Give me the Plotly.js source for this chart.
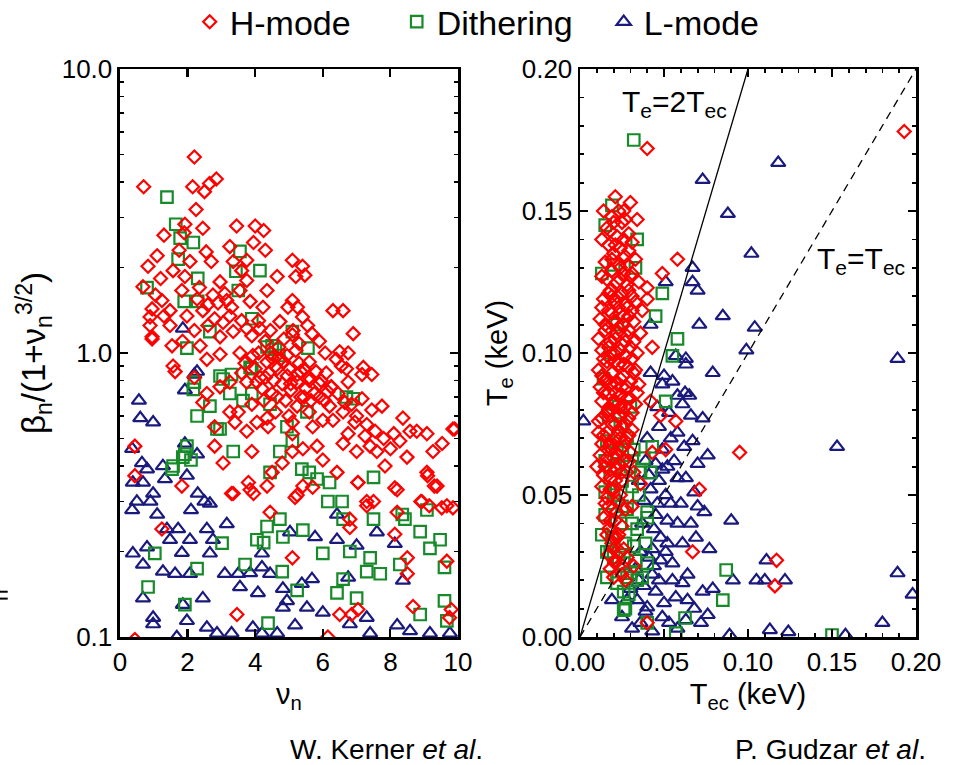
<!DOCTYPE html>
<html>
<head>
<meta charset="utf-8">
<script src="https://cdn.plot.ly/plotly-3.0.1.min.js"></script>
<style>html,body{margin:0;padding:0;background:#fff;}#chart{width:963px;height:765px;}</style>
</head>
<body>
<div id="chart"></div>
<script>
// ---------- Left panel: beta_n/(1+nu_n^3/2) vs nu_n ----------
const hLeftX = [0.7,2.2,2.15,2.5,2.65,2.85,2.25,1.9,1.3,2.45,3.45,4.0,4.25,1.92,3.25,3.95,4.3,2.55,2.07,2.7,3.35,3.75,5.1,0.83,1.57,1.2,0.68,1.92,2.96,3.75,4.35,4.65,1.83,2.28,1.24,0.95,1.48,2.75,3.16,3.55,3.85,4.23,4.97,1.98,2.45,2.8,3.25,0.89,1.48,0.95,1.54,2.37,2.96,3.35,3.75,4.14,4.73,5.12,1.57,2.57,2.96,3.55,3.93,4.35,4.94,0.89,
5.4,5.47,5.2,5.1,5.25,5.4,5.68,6.3,6.6,6.9,6.07,6.5,6.75,6.7,7.2,7.45,5.1,5.6,5.8,
5.24,5.6,6.15,6.75,7.16,6.65,7.16,7.45,7.75,6.3,6.0,5.6,5.24,8.37,6.95,6.75,7.25,6.6,7.0,7.4,7.6,8.0,8.28,8.58,8.78,9.08,9.53,9.26,9.85,8.49,7.84,7.04,6.42,6.0,5.83,5.41,8.2,9.08,9.38,5.41,7.3,8.93,9.15,9.67,9.85,5.1,
1.63,2.2,2.57,2.96,3.25,2.45,3.75,4.05,4.65,3.25,3.5,2.8,3.4,3.75,4.05,4.35,4.38,5.1,0.44,2.8,3.9,5.1,0.44,3.05,1.83,3.8,4.35,3.35,3.95,4.5,4.8,5.18,
4.4,4.6,4.8,5.0,4.2,4.5,5.3,5.5,4.9,4.0,3.6,4.7,5.2,4.3,3.9,6.1,6.4,5.9,6.2,5.7,
1.24,5.1,3.46,0.44,6.5,6.85,7.04,6.15,8.67,9.8,9.75,8.5,8.5,9.67,8.13,8.2,8.9,9.52,8.13,6.8,6.8,7.3,7.5,4.44,5.24,5.7,7.04,9.1,9.3,9.9,3.3,3.85,0.95,
4.55,4.95,5.35,4.15,4.75,5.05,5.45,3.7,4.45,5.65,6.25,6.55,5.95,3.05,2.35,1.75,1.1,2.6,3.1,3.6,
4.1,4.3,4.5,4.65,4.85,5.05,5.25,5.45,5.6,5.75,5.9,6.05,6.25,6.45,6.6,6.85,7.0,7.3,7.55,7.8,8.1,3.9,4.25,4.6,5.0,5.35,4.1,4.45,4.85,5.3,5.55,5.9,3.3,3.6,2.9,2.6,2.2,1.85,1.3,1.05];
const hLeftY = [3.85,4.9,3.85,3.7,3.95,4.1,3.2,2.65,2.6,2.75,2.8,2.8,2.7,2.84,2.37,2.45,2.3,2.27,2.1,2.1,2.1,2.12,2.12,2.02,1.95,1.83,1.71,1.86,1.78,1.8,1.66,1.86,1.66,1.55,1.53,1.43,1.41,1.6,1.53,1.66,1.52,1.45,1.45,1.35,1.41,1.32,1.35,1.25,1.25,1.14,1.06,1.06,1.14,1.19,1.22,1.22,1.29,1.2,0.9,0.95,0.99,1.0,0.98,0.93,0.98,1.34,
2.02,1.88,1.86,1.53,1.45,1.34,1.17,1.41,1.41,1.17,1.0,1.01,1.0,0.88,0.89,0.84,1.16,0.93,0.86,
0.79,0.82,0.73,0.79,0.84,0.67,0.69,0.63,0.65,0.58,0.58,0.62,0.65,0.59,0.57,0.52,0.51,0.48,0.45,0.47,0.45,0.46,0.49,0.53,0.53,0.52,0.48,0.45,0.54,0.43,0.40,0.35,0.38,0.42,0.47,0.46,0.33,0.38,0.34,0.34,0.30,0.30,0.29,0.29,0.285,0.57,
0.86,0.82,0.72,0.76,0.79,0.67,0.79,0.79,0.70,0.62,0.62,0.55,0.57,0.53,0.57,0.59,0.55,0.52,0.47,0.47,0.45,0.45,0.37,0.41,0.34,0.35,0.34,0.32,0.32,0.38,0.41,0.31,
0.85,0.9,0.78,0.88,0.75,0.72,0.92,0.75,0.68,0.88,0.85,1.05,1.02,1.1,1.15,0.85,0.95,0.7,0.65,0.55,
0.24,0.19,0.12,0.098,0.12,0.12,0.125,0.10,0.128,0.125,0.117,0.19,0.167,0.185,0.23,0.275,0.30,0.285,0.335,0.243,0.26,0.29,0.30,0.275,0.316,0.337,0.35,0.37,0.34,0.54,0.32,0.33,1.12,
0.8,0.83,0.86,0.82,0.95,0.74,0.7,0.92,1.0,0.68,0.76,0.9,0.8,1.28,1.7,2.3,2.2,1.48,1.62,1.95,
1.0,0.82,0.96,0.88,0.93,0.78,0.84,0.88,0.8,0.72,0.78,0.68,0.76,0.72,0.62,0.66,0.6,0.56,0.53,0.5,0.52,0.66,0.68,0.62,0.6,0.7,1.3,1.2,1.12,1.08,1.25,1.1,1.45,1.3,1.5,1.25,1.2,1.1,1.35,1.6];

const dLeftX = [1.39,1.65,1.78,2.17,1.72,2.3,0.8,3.55,3.43,4.14,1.9,2.3,3.9,1.98,5.1,5.56,4.35,4.6,2.66,3.5,4.5,2.96,3.3,3.9,4.7,
2.2,2.28,2.66,2.96,3.05,3.25,3.85,3.9,4.44,4.94,5.1,4.73,4.44,5.38,5.6,5.83,5.53,6.7,6.2,6.15,6.57,6.6,7.5,7.5,6.9,8.35,9.08,8.43,8.88,9.47,9.17,7.4,7.7,8.28,7.3,6.6,7.0,6.42,9.6,9.6,9.67,8.88,6.8,6.0,5.41,4.82,4.05,4.35,4.73,4.25,3.02,3.7,4.8,5.24,1.92,2.28,1.03,0.83,1.86,1.54,4.38,1.98,2.1,
2.17,2.87,3.64,3.35,1.57,1.92];
const dLeftY = [3.54,2.84,2.54,2.45,2.14,1.83,1.7,2.28,1.94,1.95,1.52,1.52,1.32,1.04,1.19,1.04,1.05,1.03,1.19,1.66,1.06,0.83,0.84,0.88,0.98,
0.79,0.60,0.65,0.54,0.81,0.72,0.89,0.72,0.66,0.55,0.49,0.45,0.38,0.39,0.38,0.36,0.62,0.70,0.35,0.30,0.30,0.26,0.26,0.365,0.69,0.27,0.28,0.26,0.235,0.22,0.205,0.19,0.167,0.18,0.17,0.16,0.137,0.143,0.176,0.134,0.114,0.12,0.2,0.197,0.238,0.225,0.22,0.245,0.26,0.215,0.214,0.18,0.17,0.146,0.13,0.174,0.197,0.15,0.43,0.39,0.112,0.47,0.42,
0.745,0.54,0.68,0.45,0.40,0.44];

const lLeftX = [1.86,2.28,2.2,1.92,0.56,0.6,0.98,0.36,1.92,2.28,0.65,0.8,1.27,0.38,0.68,0.98,1.33,1.98,2.3,2.5,2.66,0.36,1.39,1.72,2.07,2.57,3.16,1.48,1.83,0.38,0.8,0.68,1.27,1.63,2.07,2.66,2.75,3.1,3.5,3.85,4.2,4.2,3.55,4.08,4.44,4.82,4.94,5.38,5.68,5.03,5.77,6.42,6.75,7.0,6.42,7.6,8.13,8.37,5.53,6.0,0.68,0.98,0.98,1.98,2.45,1.68,2.57,2.87,3.3,3.93,4.2,4.82,5.18,4.65,6.8,7.4,7.3,8.2,8.58,9.17,9.76,1.86,0.5,0.9,1.1,2.1];
const lLeftY = [1.22,0.86,0.84,0.74,0.68,0.59,0.57,0.46,0.48,0.44,0.41,0.39,0.40,0.35,0.35,0.32,0.36,0.37,0.32,0.30,0.295,0.28,0.24,0.24,0.22,0.24,0.25,0.22,0.198,0.197,0.207,0.18,0.17,0.167,0.167,0.197,0.22,0.167,0.167,0.168,0.176,0.197,0.15,0.143,0.167,0.148,0.134,0.154,0.16,0.234,0.225,0.22,0.162,0.21,0.27,0.234,0.213,0.158,0.127,0.122,0.137,0.117,0.111,0.114,0.137,0.1,0.108,0.103,0.103,0.108,0.103,0.127,0.11,0.103,0.111,0.103,0.117,0.11,0.105,0.103,0.103,0.13,0.3,0.3,0.27,0.28];

// ---------- Right panel: Te vs Tec ----------
const hRightX = [0.021,0.030,0.026,0.034,0.025,0.018,0.022,0.029,0.017,0.024,0.031,0.020,0.027,0.015,0.023,0.033,0.019,0.026,0.030,0.016,0.022,0.028,0.035,0.018,0.025,0.031,0.014,0.021,0.027,0.033,0.017,0.024,0.029,0.012,0.020,0.026,0.032,0.015,0.022,0.028,0.036,0.018,0.025,0.030,0.013,0.020,0.027,0.034,0.016,0.023,0.029,0.011,0.019,0.026,0.032,0.015,0.022,0.028,0.035,0.017,0.024,0.030,0.013,0.020,0.027,0.033,0.016,0.023,0.029,0.011,0.019,0.025,0.031,0.014,0.021,0.027,0.017,0.024,0.030,0.012,0.020,0.026,0.015,0.022,0.028,0.018,0.025,0.013,0.020,0.016,0.023,0.019,0.014,0.021,0.017,0.023,0.019,0.024,0.021,0.018,0.025,0.022,
0.024,0.019,0.023,0.021,0.018,0.024,0.021,0.019,0.023,0.018,0.022,0.024,0.017,0.026,0.016,0.028,0.028,0.020,0.023,0.029,
0.014,0.019,0.016,0.027,0.013,0.021,0.026,0.019,0.024,0.013,0.031,0.017,0.029,0.022,0.013,0.019,0.026,0.031,0.015,0.023,0.029,0.017,0.027,0.032,0.014,0.021,0.026,0.031,0.013,0.018,0.025,0.030,0.014,0.021,0.028,0.017,0.024,0.031,0.013,0.021,0.027,0.016,0.024,0.029,0.013,0.019,0.026,0.016,0.023,0.029,0.018,0.025,0.014,0.021,0.018,0.024,0.015,0.022,0.018,0.025,0.016,0.020,0.017,0.023,0.027,0.020,0.011,0.012,0.011,0.010,0.033,0.034,
0.040,0.058,0.049,0.040,0.040,0.037,0.043,0.048,0.042,0.057,0.051,0.043,0.095,0.071,0.032,0.036,0.017,0.031,0.027,0.020,0.026,0.021,0.067,0.117,0.116,0.040,0.193,0.028,0.032];
const hRightY = [0.155,0.153,0.150,0.147,0.146,0.143,0.141,0.142,0.138,0.137,0.139,0.135,0.134,0.132,0.131,0.133,0.129,0.128,0.127,0.126,0.125,0.124,0.125,0.122,0.121,0.120,0.119,0.118,0.117,0.118,0.115,0.114,0.113,0.112,0.111,0.110,0.111,0.108,0.107,0.106,0.107,0.104,0.103,0.102,0.101,0.100,0.099,0.100,0.097,0.096,0.095,0.094,0.093,0.092,0.093,0.090,0.089,0.088,0.089,0.086,0.085,0.084,0.083,0.082,0.081,0.082,0.079,0.078,0.077,0.076,0.075,0.074,0.073,0.071,0.070,0.069,0.067,0.066,0.065,0.064,0.063,0.062,0.060,0.059,0.058,0.056,0.055,0.053,0.052,0.049,0.048,0.045,0.042,0.041,0.038,0.036,0.033,0.030,0.027,0.024,0.022,0.035,
0.126,0.120,0.116,0.105,0.098,0.091,0.086,0.080,0.072,0.068,0.064,0.101,0.109,0.079,0.091,0.116,0.131,0.146,0.150,0.136,
0.150,0.148,0.144,0.147,0.140,0.138,0.140,0.133,0.130,0.127,0.128,0.121,0.122,0.120,0.116,0.114,0.113,0.115,0.110,0.109,0.108,0.102,0.104,0.104,0.098,0.097,0.096,0.098,0.092,0.089,0.088,0.090,0.086,0.083,0.084,0.080,0.081,0.079,0.077,0.075,0.075,0.072,0.070,0.071,0.068,0.066,0.067,0.063,0.061,0.062,0.059,0.058,0.057,0.055,0.052,0.050,0.047,0.044,0.041,0.039,0.036,0.031,0.029,0.025,0.020,0.021,0.105,0.088,0.072,0.060,0.094,0.086,
0.172,0.133,0.128,0.123,0.119,0.115,0.102,0.078,0.083,0.076,0.066,0.065,0.065,0.052,0.058,0.054,0.046,0.046,0.045,0.035,0.031,0.026,0.030,0.027,0.018,0.005,0.178,0.028,0.025];

const dRightX = [0.032,0.019,0.034,0.020,0.033,0.049,0.045,0.058,0.055,0.051,0.043,0.042,0.040,0.039,0.040,0.037,0.028,0.026,0.0625,0.057,0.087,0.085,0.150,0.016,0.016,0.015,0.015,0.015,0.014,0.030,0.023,0.038,0.040,0.030,0.026,0.027,0.016,0.034,0.040,0.022,0.019,0.024,0.028,0.020,0.025,0.030,0.022,0.028,0.024,0.018,0.026,0.032,0.034,0.020,0.035,0.031,0.013,0.022,0.018,0.015,
0.018,0.023,0.027,0.031,0.025,0.021,0.017,0.032,0.036,0.013,0.029,0.033];
const dRightY = [0.175,0.152,0.140,0.131,0.130,0.121,0.113,0.105,0.099,0.083,0.067,0.058,0.042,0.033,0.026,0.021,0.021,0.0095,0.0067,0.0014,0.0236,0.013,0.0007,0.021,0.030,0.043,0.051,0.062,0.091,0.081,0.081,0.063,0.044,0.0225,0.016,0.010,0.069,0.020,0.005,0.019,0.035,0.040,0.045,0.050,0.055,0.060,0.065,0.070,0.075,0.056,0.026,0.032,0.038,0.028,0.050,0.053,0.128,0.110,0.100,0.145,
0.030,0.028,0.033,0.040,0.046,0.060,0.078,0.066,0.058,0.036,0.015,0.027];

const lRightX = [0.118,0.073,0.088,0.102,0.067,0.051,0.067,0.070,0.085,0.104,0.042,0.099,0.189,0.057,0.063,0.063,0.079,0.049,0.0625,0.065,0.061,0.073,0.002,0.054,0.067,0.076,0.070,0.058,0.049,0.153,0.054,0.070,0.074,0.090,0.046,0.052,0.058,0.052,0.061,0.077,0.048,0.055,0.043,0.055,0.064,0.111,0.091,0.105,0.110,0.122,0.079,0.073,0.064,0.076,0.063,0.049,0.040,0.034,0.028,0.019,0.089,0.113,0.124,0.158,0.180,0.189,0.198,0.043,0.058,
0.035,0.038,0.042,0.045,0.040,0.047,0.053,0.058,0.044,0.048,0.036,0.041,0.033,0.038,0.045,0.050,0.030,0.025,0.036,0.031,0.047,0.056,0.062,0.051,0.066,0.060,0.045,0.069,0.039,0.050,0.055,0.046,0.042,0.066,0.071,
0.037,0.043,0.047,0.039,0.053,0.057,0.061,0.068,0.072,0.035,0.041,0.049,0.058,0.052,0.063,0.068,0.044,0.051];
const lRightY = [0.167,0.161,0.149,0.135,0.130,0.125,0.125,0.122,0.113,0.109,0.110,0.101,0.098,0.099,0.098,0.096,0.093,0.089,0.086,0.085,0.082,0.077,0.076,0.070,0.069,0.064,0.061,0.056,0.059,0.067,0.047,0.046,0.044,0.041,0.047,0.041,0.040,0.033,0.033,0.031,0.027,0.026,0.022,0.020,0.022,0.027,0.020,0.020,0.020,0.020,0.017,0.016,0.013,0.0078,0.006,0.007,0.0105,0.013,0.013,0.013,0.0007,0.0025,0.0018,0.0007,0.005,0.0225,0.015,0.002,0.003,
0.055,0.048,0.052,0.061,0.070,0.074,0.079,0.085,0.038,0.035,0.030,0.028,0.024,0.018,0.016,0.012,0.017,0.007,0.005,0.003,0.055,0.062,0.067,0.050,0.040,0.047,0.043,0.035,0.062,0.092,0.090,0.081,0.093,0.078,0.110,
0.040,0.031,0.020,0.009,0.005,0.014,0.019,0.010,0.005,0.020,0.057,0.066,0.072,0.060,0.056,0.051,0.025,0.030];

// reference lines Te = 2Tec and Te = Tec
const line2X = [0, 0.1];
const line2Y = [0, 0.2];
const line1X = [0, 0.2];
const line1Y = [0, 0.2];

// tick labels
const leftYTicks = [0.1, 1, 10];
const leftYTickText = ['0.1', '1.0', '10.0'];

const RED = '#ff0000', GREEN = '#178a2a', NAVY = '#1a1a7e';
const FONT = 'Liberation Sans, Arial, sans-serif';

function sc(x, y, name, sym, color, size, xa, ya, show) {
  return {type:'scatter', mode:'markers', x:x, y:y, name:name, legendgroup:name, showlegend:show,
    xaxis:xa, yaxis:ya, cliponaxis:true,
    marker:{symbol:sym, size:size, color:color, line:{color:color, width:2.2}}};
}

const traces = [
  sc(lLeftX, lLeftY, 'L-mode', 'triangle-up-open', NAVY, 12.5, 'x', 'y', true),
  sc(lRightX, lRightY, 'L-mode', 'triangle-up-open', NAVY, 12.5, 'x2', 'y2', false),
  sc(dLeftX, dLeftY, 'Dithering', 'square-open', GREEN, 11.5, 'x', 'y', true),
  sc(dRightX, dRightY, 'Dithering', 'square-open', GREEN, 11.5, 'x2', 'y2', false),
  sc(hLeftX, hLeftY, 'H-mode', 'diamond-open', RED, 10, 'x', 'y', true),
  sc(hRightX, hRightY, 'H-mode', 'diamond-open', RED, 10, 'x2', 'y2', false),
  {type:'scatter', mode:'lines', x:line2X, y:line2Y, xaxis:'x2', yaxis:'y2', showlegend:false,
   line:{color:'#000', width:1.3}},
  {type:'scatter', mode:'lines', x:line1X, y:line1Y, xaxis:'x2', yaxis:'y2', showlegend:false,
   line:{color:'#000', width:1.3, dash:'8px,6px'}}
];

const axBase = {showline:true, linecolor:'#000', linewidth:2.5, mirror:'ticks', ticks:'inside',
  ticklen:8, tickwidth:2.2, tickcolor:'#000', showgrid:false, zeroline:false,
  tickfont:{family:FONT, size:26, color:'#000'}, fixedrange:true};
const titleFont = {family:FONT, size:29, color:'#000'};

const layout = {
  width:963, height:765,
  margin:{l:0, r:0, t:0, b:0, autoexpand:false},
  paper_bgcolor:'#fff', plot_bgcolor:'#fff',
  font:{family:FONT, color:'#000'},
  showlegend:true,
  legend:{orientation:'h', x:0.197, xanchor:'left', y:1.009, yanchor:'top', traceorder:'reversed',
    font:{family:FONT, size:34, color:'#000'}, itemwidth:30, entrywidth:162, entrywidthmode:'pixels',
    bgcolor:'rgba(0,0,0,0)'},
  xaxis: Object.assign({}, axBase, {domain:[0.1246, 0.4756], range:[0,10], dtick:2, tick0:0,
    title:{text:'ν<sub>n</sub>', font:titleFont, standoff:8}}),
  yaxis: Object.assign({}, axBase, {domain:[0.1673, 0.9098], type:'log', range:[-1,1],
    tickmode:'array', tickvals:leftYTicks, ticktext:leftYTickText,
    minor:{dtick:'D1', ticks:'inside', ticklen:4, tickwidth:1.8, tickcolor:'#000', showgrid:false},
    title:{text:'β<sub>n</sub>/(1+ν<sub>n</sub><sup>3/2</sup>)', font:{family:FONT, size:33, color:'#000'}, standoff:6}}),
  xaxis2: Object.assign({}, axBase, {domain:[0.6023, 0.9512], range:[0,0.2], dtick:0.05, tick0:0, tickformat:'.2f',
    anchor:'y2',
    minor:{dtick:0.01, ticks:'inside', ticklen:4, tickwidth:1.8, tickcolor:'#000', showgrid:false},
    title:{text:'T<sub>ec</sub> (keV)', font:titleFont, standoff:8}}),
  yaxis2: Object.assign({}, axBase, {domain:[0.1673, 0.9098], range:[0,0.2], dtick:0.05, tick0:0, tickformat:'.2f',
    anchor:'x2',
    minor:{dtick:0.01, ticks:'inside', ticklen:4, tickwidth:1.8, tickcolor:'#000', showgrid:false},
    title:{text:'T<sub>e</sub> (keV)', font:titleFont, standoff:6}}),
  annotations:[
    {xref:'x2', yref:'y2', x:0.024, y:0.188, xanchor:'left', yanchor:'middle', showarrow:false,
     text:'T<sub>e</sub>=2T<sub>ec</sub>', font:{family:FONT, size:30, color:'#000'}},
    {xref:'x2', yref:'y2', x:0.140, y:0.1325, xanchor:'left', yanchor:'middle', showarrow:false,
     text:'T<sub>e</sub>=T<sub>ec</sub>', font:{family:FONT, size:30, color:'#000'}},
    {xref:'paper', yref:'paper', x:0.401, y:0.02, xanchor:'center', yanchor:'middle', showarrow:false,
     text:'W. Kerner <i>et al</i>.', font:{family:FONT, size:28, color:'#000'}},
    {xref:'paper', yref:'paper', x:0.862, y:0.02, xanchor:'center', yanchor:'middle', showarrow:false,
     text:'P. Gudzar <i>et al</i>.', font:{family:FONT, size:28, color:'#000'}}
  ],
  shapes:[
    {type:'line', xref:'paper', yref:'paper', x0:0, x1:0.008, y0:0.2265, y1:0.2265, line:{color:'#000', width:2}},
    {type:'line', xref:'paper', yref:'paper', x0:0, x1:0.008, y0:0.2175, y1:0.2175, line:{color:'#000', width:2}}
  ]
};

Plotly.newPlot('chart', traces, layout, {staticPlot:true, displayModeBar:false});
</script>
</body>
</html>
